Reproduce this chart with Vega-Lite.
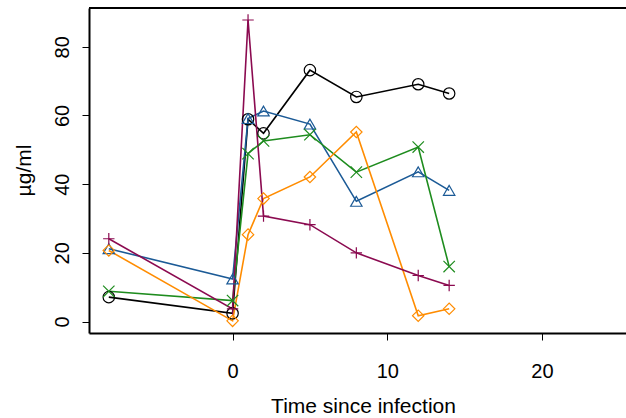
{
  "$schema": "https://vega.github.io/schema/vega-lite/v6.json",
  "width": 537,
  "height": 325,
  "autosize": {"type": "none"},
  "padding": {"left": 89, "top": 8, "right": 0, "bottom": 85},
  "background": "white",
  "config": {
    "view": {"stroke": null},
    "font": "Liberation Sans",
    "axis": {
      "grid": false,
      "domainColor": "black",
      "domainWidth": 2,
      "tickColor": "black",
      "tickWidth": 1,
      "tickSize": 7,
      "labelFont": "Liberation Sans",
      "labelFontSize": 20,
      "labelColor": "black",
      "titleFont": "Liberation Sans",
      "titleFontSize": 21,
      "titleFontWeight": "normal",
      "titleColor": "black"
    }
  },
  "datasets": {
    "pts": [
      {"s": "A", "t": -8, "v": 7.1},
      {"s": "A", "t": 0, "v": 2.4},
      {"s": "A", "t": 1, "v": 58.9},
      {"s": "A", "t": 2, "v": 54.8},
      {"s": "A", "t": 5, "v": 73.2},
      {"s": "A", "t": 8, "v": 65.4},
      {"s": "A", "t": 12, "v": 69.1},
      {"s": "A", "t": 14, "v": 66.4},
      {"s": "B", "t": -8, "v": 21.2},
      {"s": "B", "t": 0, "v": 12.4},
      {"s": "B", "t": 1, "v": 59.1},
      {"s": "B", "t": 2, "v": 61.3},
      {"s": "B", "t": 5, "v": 57.5},
      {"s": "B", "t": 8, "v": 35.0},
      {"s": "B", "t": 12, "v": 43.6},
      {"s": "B", "t": 14, "v": 38.2},
      {"s": "C", "t": -8, "v": 8.8},
      {"s": "C", "t": 0, "v": 6.1},
      {"s": "C", "t": 1, "v": 48.9},
      {"s": "C", "t": 2, "v": 52.6},
      {"s": "C", "t": 5, "v": 54.4},
      {"s": "C", "t": 8, "v": 43.5},
      {"s": "C", "t": 12, "v": 50.8},
      {"s": "C", "t": 14, "v": 16.0},
      {"s": "D", "t": -8, "v": 20.7},
      {"s": "D", "t": 0, "v": 0.2},
      {"s": "D", "t": 1, "v": 25.3},
      {"s": "D", "t": 2, "v": 35.8},
      {"s": "D", "t": 5, "v": 42.1},
      {"s": "D", "t": 8, "v": 55.2},
      {"s": "D", "t": 12, "v": 1.7},
      {"s": "D", "t": 14, "v": 3.7},
      {"s": "E", "t": -8, "v": 24.1},
      {"s": "E", "t": 0, "v": 3.7},
      {"s": "E", "t": 1, "v": 87.8},
      {"s": "E", "t": 2, "v": 30.7},
      {"s": "E", "t": 5, "v": 28.2},
      {"s": "E", "t": 8, "v": 20.0},
      {"s": "E", "t": 12, "v": 13.4},
      {"s": "E", "t": 14, "v": 10.5}
    ],
    "top": [{"level": 91.3}]
  },
  "layer": [
    {
      "data": {"name": "pts"},
      "mark": {"type": "line", "strokeWidth": 1.6},
      "encoding": {
        "x": {
          "field": "t",
          "type": "quantitative",
          "scale": {"domain": [-9.28, 25.43], "nice": false, "zero": false},
          "axis": {
            "values": [0, 10, 20],
            "title": "Time since infection",
            "labelBaseline": "alphabetic",
            "labelPadding": 37,
            "labelFlush": false,
            "titleX": 274,
            "titleY": 79,
            "titleAlign": "center",
            "titleBaseline": "alphabetic"
          }
        },
        "y": {
          "field": "v",
          "type": "quantitative",
          "scale": {"domain": [-3.34, 91.3], "nice": false, "zero": false},
          "axis": {
            "values": [0, 20, 40, 60, 80],
            "title": "µg/ml",
            "labelAngle": -90,
            "labelAlign": "center",
            "labelBaseline": "alphabetic",
            "labelPadding": 14,
            "labelFlush": false,
            "titleAngle": -90,
            "titleX": -59,
            "titleY": 162,
            "titleAlign": "center",
            "titleBaseline": "alphabetic"
          }
        },
        "color": {
          "field": "s",
          "type": "nominal",
          "legend": null,
          "scale": {
            "domain": ["A", "B", "C", "D", "E"],
            "range": ["#000000", "#1B5A96", "#1E8C1E", "#FF8C00", "#8B0A50"]
          }
        },
        "detail": {"field": "s"}
      }
    },
    {
      "data": {"name": "pts"},
      "mark": {"type": "point", "filled": false, "size": 130, "strokeWidth": 1.2, "opacity": 1},
      "encoding": {
        "x": {"field": "t", "type": "quantitative"},
        "y": {"field": "v", "type": "quantitative"},
        "color": {"field": "s", "type": "nominal", "legend": null},
        "shape": {
          "field": "s",
          "type": "nominal",
          "legend": null,
          "scale": {
            "domain": ["A", "B", "C", "D", "E"],
            "range": ["circle", "triangle-up", "M-1,-1L1,1M1,-1L-1,1", "diamond", "M-1,0L1,0M0,-1L0,1"]
          }
        }
      }
    },
    {
      "data": {"name": "top"},
      "mark": {"type": "rule", "color": "black", "strokeWidth": 2},
      "encoding": {
        "y": {"field": "level", "type": "quantitative"}
      }
    }
  ]
}
